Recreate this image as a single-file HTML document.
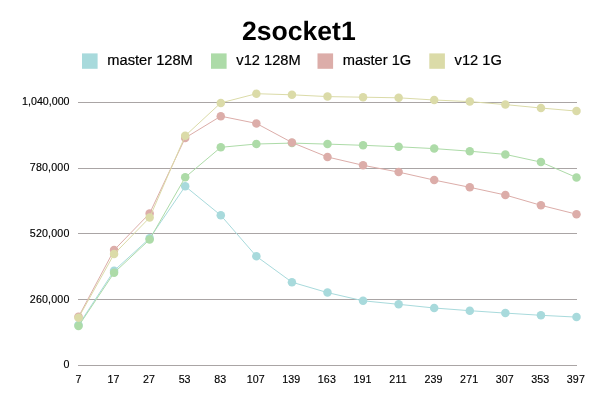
<!DOCTYPE html><html><head><meta charset="utf-8"><title>2socket1</title><style>html,body{margin:0;padding:0;background:#fff}body{width:600px;height:400px;overflow:hidden}svg{display:block;will-change:transform}text{font-family:"Liberation Sans",sans-serif}</style></head><body>
<svg width="600" height="400" viewBox="0 0 600 400">
<rect width="600" height="400" fill="#fff"/>
<text x="298.8" y="39.7" text-anchor="middle" font-size="26.6" text-rendering="geometricPrecision" font-weight="bold" fill="#000">2socket1</text>
<rect x="82" y="53.4" width="15.6" height="15.4" fill="#a8dadc"/>
<text x="107.3" y="64.7" font-size="14.67" fill="#000" stroke="#000" stroke-width="0.2">master 128M</text>
<rect x="211" y="53.4" width="15.6" height="15.4" fill="#addba8"/>
<text x="236.3" y="64.7" font-size="14.67" fill="#000" stroke="#000" stroke-width="0.2">v12 128M</text>
<rect x="317.5" y="53.4" width="15.6" height="15.4" fill="#dcada9"/>
<text x="342.8" y="64.7" font-size="14.67" fill="#000" stroke="#000" stroke-width="0.2">master 1G</text>
<rect x="429.3" y="53.4" width="15.6" height="15.4" fill="#dbdba8"/>
<text x="454.6" y="64.7" font-size="14.67" fill="#000" stroke="#000" stroke-width="0.2">v12 1G</text>
<rect x="78" y="102" width="499" height="1" fill="#aaa5a5"/>
<text x="69.5" y="104.9" text-anchor="end" font-size="10.67" fill="#000" stroke="#000" stroke-width="0.15">1,040,000</text>
<rect x="78" y="168" width="499" height="1" fill="#aaa5a5"/>
<text x="69.5" y="170.8" text-anchor="end" font-size="10.67" fill="#000" stroke="#000" stroke-width="0.15" letter-spacing="0.17">780,000</text>
<rect x="78" y="233" width="499" height="1" fill="#aaa5a5"/>
<text x="69.5" y="236.6" text-anchor="end" font-size="10.67" fill="#000" stroke="#000" stroke-width="0.15" letter-spacing="0.17">520,000</text>
<rect x="78" y="299" width="499" height="1" fill="#aaa5a5"/>
<text x="69.5" y="302.6" text-anchor="end" font-size="10.67" fill="#000" stroke="#000" stroke-width="0.15" letter-spacing="0.17">260,000</text>
<rect x="78" y="365" width="499" height="1" fill="#aaa5a5"/>
<text x="69.5" y="367.9" text-anchor="end" font-size="10.67" fill="#000" stroke="#000" stroke-width="0.15">0</text>
<text x="78.50" y="383" text-anchor="middle" font-size="10.67" fill="#000" stroke="#000" stroke-width="0.15">7</text>
<text x="113.47" y="383" text-anchor="middle" font-size="10.67" fill="#000" stroke="#000" stroke-width="0.15">17</text>
<text x="149.04" y="383" text-anchor="middle" font-size="10.67" fill="#000" stroke="#000" stroke-width="0.15">27</text>
<text x="184.61" y="383" text-anchor="middle" font-size="10.67" fill="#000" stroke="#000" stroke-width="0.15">53</text>
<text x="220.19" y="383" text-anchor="middle" font-size="10.67" fill="#000" stroke="#000" stroke-width="0.15">83</text>
<text x="255.76" y="383" text-anchor="middle" font-size="10.67" fill="#000" stroke="#000" stroke-width="0.15" letter-spacing="0.12">107</text>
<text x="291.33" y="383" text-anchor="middle" font-size="10.67" fill="#000" stroke="#000" stroke-width="0.15" letter-spacing="0.12">139</text>
<text x="326.90" y="383" text-anchor="middle" font-size="10.67" fill="#000" stroke="#000" stroke-width="0.15" letter-spacing="0.12">163</text>
<text x="362.47" y="383" text-anchor="middle" font-size="10.67" fill="#000" stroke="#000" stroke-width="0.15" letter-spacing="0.12">191</text>
<text x="398.04" y="383" text-anchor="middle" font-size="10.67" fill="#000" stroke="#000" stroke-width="0.15" letter-spacing="0.12">211</text>
<text x="433.61" y="383" text-anchor="middle" font-size="10.67" fill="#000" stroke="#000" stroke-width="0.15" letter-spacing="0.12">239</text>
<text x="469.19" y="383" text-anchor="middle" font-size="10.67" fill="#000" stroke="#000" stroke-width="0.15" letter-spacing="0.12">271</text>
<text x="504.76" y="383" text-anchor="middle" font-size="10.67" fill="#000" stroke="#000" stroke-width="0.15" letter-spacing="0.12">307</text>
<text x="540.33" y="383" text-anchor="middle" font-size="10.67" fill="#000" stroke="#000" stroke-width="0.15" letter-spacing="0.12">353</text>
<text x="575.90" y="383" text-anchor="middle" font-size="10.67" fill="#000" stroke="#000" stroke-width="0.15" letter-spacing="0.12">397</text>
<polyline points="78.50,325.1 114.07,270.7 149.64,238.3 185.21,186.3 220.79,215.3 256.36,256.3 291.93,282.2 327.50,292.6 363.07,300.8 398.64,304.3 434.21,308.0 469.79,310.7 505.36,313.1 540.93,315.3 576.50,317.1" fill="none" stroke="#a8dadc" stroke-width="1"/>
<circle cx="78.50" cy="325.1" r="4.25" fill="#a8dadc"/>
<circle cx="114.07" cy="270.7" r="4.25" fill="#a8dadc"/>
<circle cx="149.64" cy="238.3" r="4.25" fill="#a8dadc"/>
<circle cx="185.21" cy="186.3" r="4.25" fill="#a8dadc"/>
<circle cx="220.79" cy="215.3" r="4.25" fill="#a8dadc"/>
<circle cx="256.36" cy="256.3" r="4.25" fill="#a8dadc"/>
<circle cx="291.93" cy="282.2" r="4.25" fill="#a8dadc"/>
<circle cx="327.50" cy="292.6" r="4.25" fill="#a8dadc"/>
<circle cx="363.07" cy="300.8" r="4.25" fill="#a8dadc"/>
<circle cx="398.64" cy="304.3" r="4.25" fill="#a8dadc"/>
<circle cx="434.21" cy="308.0" r="4.25" fill="#a8dadc"/>
<circle cx="469.79" cy="310.7" r="4.25" fill="#a8dadc"/>
<circle cx="505.36" cy="313.1" r="4.25" fill="#a8dadc"/>
<circle cx="540.93" cy="315.3" r="4.25" fill="#a8dadc"/>
<circle cx="576.50" cy="317.1" r="4.25" fill="#a8dadc"/>
<polyline points="78.50,326.1 114.07,272.8 149.64,239.5 185.21,177.3 220.79,147.3 256.36,144.0 291.93,143.1 327.50,144.1 363.07,145.3 398.64,146.8 434.21,148.6 469.79,151.2 505.36,154.4 540.93,162.1 576.50,177.5" fill="none" stroke="#addba8" stroke-width="1"/>
<circle cx="78.50" cy="326.1" r="4.25" fill="#addba8"/>
<circle cx="114.07" cy="272.8" r="4.25" fill="#addba8"/>
<circle cx="149.64" cy="239.5" r="4.25" fill="#addba8"/>
<circle cx="185.21" cy="177.3" r="4.25" fill="#addba8"/>
<circle cx="220.79" cy="147.3" r="4.25" fill="#addba8"/>
<circle cx="256.36" cy="144.0" r="4.25" fill="#addba8"/>
<circle cx="291.93" cy="143.1" r="4.25" fill="#addba8"/>
<circle cx="327.50" cy="144.1" r="4.25" fill="#addba8"/>
<circle cx="363.07" cy="145.3" r="4.25" fill="#addba8"/>
<circle cx="398.64" cy="146.8" r="4.25" fill="#addba8"/>
<circle cx="434.21" cy="148.6" r="4.25" fill="#addba8"/>
<circle cx="469.79" cy="151.2" r="4.25" fill="#addba8"/>
<circle cx="505.36" cy="154.4" r="4.25" fill="#addba8"/>
<circle cx="540.93" cy="162.1" r="4.25" fill="#addba8"/>
<circle cx="576.50" cy="177.5" r="4.25" fill="#addba8"/>
<polyline points="78.50,316.8 114.07,250.1 149.64,213.4 185.21,137.9 220.79,116.2 256.36,123.4 291.93,142.5 327.50,157.0 363.07,165.3 398.64,172.1 434.21,180.1 469.79,187.3 505.36,195.0 540.93,205.3 576.50,214.2" fill="none" stroke="#dcada9" stroke-width="1"/>
<circle cx="78.50" cy="316.8" r="4.25" fill="#dcada9"/>
<circle cx="114.07" cy="250.1" r="4.25" fill="#dcada9"/>
<circle cx="149.64" cy="213.4" r="4.25" fill="#dcada9"/>
<circle cx="185.21" cy="137.9" r="4.25" fill="#dcada9"/>
<circle cx="220.79" cy="116.2" r="4.25" fill="#dcada9"/>
<circle cx="256.36" cy="123.4" r="4.25" fill="#dcada9"/>
<circle cx="291.93" cy="142.5" r="4.25" fill="#dcada9"/>
<circle cx="327.50" cy="157.0" r="4.25" fill="#dcada9"/>
<circle cx="363.07" cy="165.3" r="4.25" fill="#dcada9"/>
<circle cx="398.64" cy="172.1" r="4.25" fill="#dcada9"/>
<circle cx="434.21" cy="180.1" r="4.25" fill="#dcada9"/>
<circle cx="469.79" cy="187.3" r="4.25" fill="#dcada9"/>
<circle cx="505.36" cy="195.0" r="4.25" fill="#dcada9"/>
<circle cx="540.93" cy="205.3" r="4.25" fill="#dcada9"/>
<circle cx="576.50" cy="214.2" r="4.25" fill="#dcada9"/>
<polyline points="78.50,317.8 114.07,254.1 149.64,217.6 185.21,135.8 220.79,102.9 256.36,93.7 291.93,94.8 327.50,96.6 363.07,97.2 398.64,97.8 434.21,100.0 469.79,101.6 505.36,104.6 540.93,108.0 576.50,111.1" fill="none" stroke="#dbdba8" stroke-width="1"/>
<circle cx="78.50" cy="317.8" r="4.25" fill="#dbdba8"/>
<circle cx="114.07" cy="254.1" r="4.25" fill="#dbdba8"/>
<circle cx="149.64" cy="217.6" r="4.25" fill="#dbdba8"/>
<circle cx="185.21" cy="135.8" r="4.25" fill="#dbdba8"/>
<circle cx="220.79" cy="102.9" r="4.25" fill="#dbdba8"/>
<circle cx="256.36" cy="93.7" r="4.25" fill="#dbdba8"/>
<circle cx="291.93" cy="94.8" r="4.25" fill="#dbdba8"/>
<circle cx="327.50" cy="96.6" r="4.25" fill="#dbdba8"/>
<circle cx="363.07" cy="97.2" r="4.25" fill="#dbdba8"/>
<circle cx="398.64" cy="97.8" r="4.25" fill="#dbdba8"/>
<circle cx="434.21" cy="100.0" r="4.25" fill="#dbdba8"/>
<circle cx="469.79" cy="101.6" r="4.25" fill="#dbdba8"/>
<circle cx="505.36" cy="104.6" r="4.25" fill="#dbdba8"/>
<circle cx="540.93" cy="108.0" r="4.25" fill="#dbdba8"/>
<circle cx="576.50" cy="111.1" r="4.25" fill="#dbdba8"/>
</svg></body></html>
